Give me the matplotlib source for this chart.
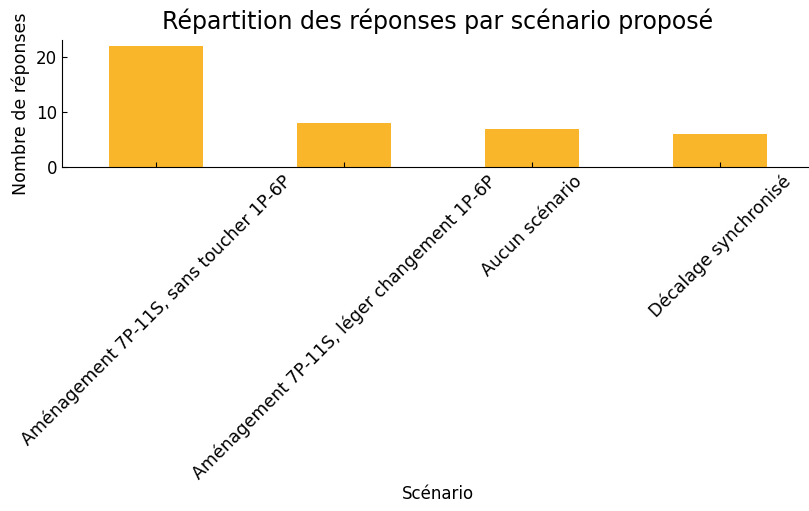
import matplotlib
matplotlib.use("Agg")
import matplotlib.pyplot as plt

scenarios = ["Aménagement 7P-11S, sans toucher 1P-6P",
             "Aménagement 7P-11S, léger changement 1P-6P",
             "Aucun scénario",
             "Décalage synchronisé"]
reponses = [22, 8, 7, 6]

plt.rcParams['font.family'] = ['DejaVu Sans']

fig = plt.figure(figsize=(8.09, 5.11), dpi=100)
ax = fig.add_axes([0.0766, 0.673, 0.9295, 0.249])

ax.bar(range(len(scenarios)), reponses, width=0.5, color='#F9B62B')
ax.set_xlim(-0.5, 3.5)
ax.set_xticks(range(len(scenarios)))
ax.set_xticklabels(scenarios, rotation=45, fontsize=12.5)
ax.tick_params(axis='both', direction='in')
ax.tick_params(axis='y', labelsize=12)
ax.spines['top'].set_visible(False)
ax.spines['right'].set_visible(False)

ax.set_title("Répartition des réponses par scénario proposé", fontsize=17, pad=8)
ax.set_ylabel("Nombre de réponses", fontsize=12.5)
ax.set_xlabel("Scénario", fontsize=12)
ax.xaxis.set_label_coords(0.5, -2.5)

fig.savefig("out.png", dpi=100)
